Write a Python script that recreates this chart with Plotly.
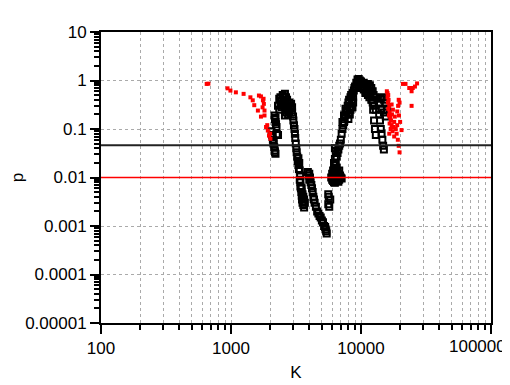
import plotly.graph_objects as go

# --- data ---
black_K = [2050, 2080, 2100, 2120, 2150, 2170, 2200, 2180, 2130, 2090,
           2160, 2180, 2200, 2220, 2240, 2200, 2250, 2300,
           2350, 2400, 2450, 2500, 2550, 2600, 2650, 2700, 2400, 2450, 2500, 2550, 2600, 2650, 2700, 2750,
           2800, 2850, 2900, 2950, 2750, 2800, 2650, 2600, 2300, 2350, 2900, 2950,
           3000, 3020, 3050, 3080, 3100, 3120, 3150, 3180, 3200, 3230, 3260, 3300, 3330,
           3300, 3350, 3380, 3400, 3420, 3450, 3480, 3500, 3520, 3550, 3600, 3650, 3420, 3380, 3500, 3550,
           3600, 3650, 3700,
           3900, 4000, 4050, 4100, 4150, 4200, 4250, 4300, 4350, 4400, 4000, 3950,
           4500, 4600, 4700, 4800, 4900, 5000, 5100, 5200, 5300, 5350, 5400, 5450,
           5600, 5650, 5600, 5700, 5800,
           5900, 6000, 6100, 6200, 6300, 6400, 6500, 6600, 6700, 6800, 6000, 6100, 6200, 6300, 6400, 6500,
           6600, 6700, 6800, 6900, 7000, 7100, 6200, 6300, 6400, 6500, 6600, 6700, 6800, 6900, 6300, 6400,
           7000, 7100, 7200, 7300, 7400, 7500, 7600, 7700, 7800, 7200, 7400, 7600,
           7900, 8000, 8100, 8200, 8300, 8400, 8500, 8600, 8700, 8800, 8900, 8000, 8300, 8600, 8000, 8200, 8500, 8700,
           9000, 9200, 9400, 9600, 9800, 10000, 10200, 9300, 9600, 9900, 10100,
           10500, 10800, 11000, 11300, 11600, 12000, 12300, 10500, 10800, 11000, 11300, 11600, 12000, 12300,
           12600, 13000, 11800, 12500, 12800,
           11700, 12000, 12200, 12400, 12600, 12800, 13000,
           13800, 14200, 14600, 15000, 15500, 13800, 14000, 14200, 14400, 14600, 14800, 15000, 14400, 15000, 15500, 15800]
black_p = [0.09, 0.075, 0.06, 0.05, 0.042, 0.036, 0.031, 0.033, 0.055, 0.068,
           0.19, 0.16, 0.14, 0.125, 0.11, 0.17, 0.078, 0.075,
           0.42, 0.45, 0.38, 0.5, 0.47, 0.53, 0.45, 0.4, 0.32, 0.28, 0.33, 0.3, 0.36, 0.29, 0.25, 0.3,
           0.35, 0.3, 0.26, 0.22, 0.2, 0.22, 0.22, 0.19, 0.3, 0.25, 0.33, 0.28,
           0.18, 0.15, 0.12, 0.1, 0.08, 0.065, 0.05, 0.04, 0.033, 0.027, 0.022, 0.018, 0.015,
           0.025, 0.02, 0.014, 0.011, 0.008, 0.006, 0.005, 0.0042, 0.0035, 0.003, 0.0027, 0.0024, 0.0065, 0.009, 0.006, 0.0045,
           0.004, 0.0035, 0.003,
           0.013, 0.012, 0.01, 0.008, 0.007, 0.006, 0.005, 0.004, 0.0035, 0.003, 0.009, 0.011,
           0.0025, 0.002, 0.0018, 0.0016, 0.0015, 0.0013, 0.0012, 0.001, 0.00095, 0.00085, 0.00078, 0.0007,
           0.0045, 0.004, 0.0028, 0.0025, 0.0035,
           0.01, 0.009, 0.0085, 0.008, 0.0078, 0.009, 0.0085, 0.0095, 0.0082, 0.009, 0.012, 0.014, 0.012, 0.015, 0.013, 0.016,
           0.013, 0.012, 0.014, 0.011, 0.01, 0.0095, 0.02, 0.024, 0.02, 0.027, 0.032, 0.038, 0.045, 0.05, 0.04, 0.035,
           0.06, 0.08, 0.1, 0.12, 0.14, 0.17, 0.2, 0.22, 0.24, 0.14, 0.19, 0.26,
           0.3, 0.35, 0.4, 0.28, 0.45, 0.5, 0.4, 0.55, 0.35, 0.62, 0.7, 0.2, 0.25, 0.28, 0.16, 0.2, 0.28, 0.45,
           0.75, 0.9, 1.05, 1.08, 1.0, 0.95, 0.85, 0.7, 0.8, 0.75, 0.7,
           0.9, 0.85, 0.8, 0.85, 0.75, 0.7, 0.6, 0.65, 0.55, 0.6, 0.5, 0.45, 0.4, 0.35,
           0.3, 0.25, 0.55, 0.5, 0.45,
           0.8, 0.6, 0.4, 0.25, 0.15, 0.1, 0.075,
           0.35, 0.42, 0.45, 0.4, 0.35, 0.2, 0.15, 0.1, 0.08, 0.06, 0.045, 0.038, 0.25, 0.22, 0.18, 0.25]

red_K = [650, 670, 940, 990, 1090, 1250, 1410, 1470, 1510, 1610, 1640, 1700, 1760, 1790, 1810,
         1700, 1810, 1860, 1920, 1960, 2010, 1750, 1780, 1900, 2000,
         15800, 16000, 16200, 16000, 16300, 16100, 16500, 16200, 16600, 16400, 16800, 17000, 16600, 17200,
         16900, 17500, 16500, 17800, 18000, 17300, 17600, 18200, 18500, 18800, 19000, 19200, 19500, 19800,
         19000, 19300, 19600, 20000, 20500, 19500, 19800, 21000, 22000, 23500, 24500, 25000, 26000, 27000,
         24500, 18000, 17200]
red_p = [0.85, 0.86, 0.69, 0.62, 0.57, 0.53, 0.45, 0.39, 0.31, 0.24, 0.49, 0.47, 0.39, 0.33, 0.24,
         0.18, 0.19, 0.11, 0.093, 0.073, 0.063, 0.28, 0.42, 0.12, 0.08,
         0.6, 0.55, 0.5, 0.45, 0.4, 0.35, 0.3, 0.26, 0.22, 0.19, 0.17, 0.15, 0.13, 0.12,
         0.1, 0.09, 0.08, 0.11, 0.14, 0.2, 0.25, 0.18, 0.1, 0.08, 0.12, 0.06, 0.045, 0.033,
         0.23, 0.3, 0.19, 0.14, 0.095, 0.4, 0.35, 0.85, 0.85, 0.7, 0.6, 0.7, 0.75, 0.87,
         0.3, 0.07, 0.32]

threshold_black = 0.046
threshold_red = 0.01

x_tickvals = [100, 1000, 10000, 100000]
x_ticktext = ["100", "1000", "10000", "100000"]
y_tickvals = [10, 1, 0.1, 0.01, 0.001, 0.0001, 0.00001]
y_ticktext = ["10", "1", "0.1", "0.01", "0.001", "0.0001", "0.00001"]

x_minor = [m * 10 ** e for e in (2, 3, 4) for m in range(2, 10)]
y_minor = [m * 10.0 ** e for e in (-5, -4, -3, -2, -1, 0) for m in range(2, 10)]

FONT = "Liberation Sans, Arial"

fig = go.Figure()
fig.add_trace(go.Scatter(x=black_K, y=black_p, mode="markers",
                         marker=dict(symbol="square-open", size=6, color="black",
                                     line=dict(width=2, color="black")),
                         showlegend=False))
fig.add_trace(go.Scatter(x=red_K, y=red_p, mode="markers",
                         marker=dict(symbol="square", size=4, color="#ff0000",
                                     line=dict(width=0)),
                         showlegend=False))

fig.add_shape(type="line", xref="paper", x0=0, x1=1, yref="y",
              y0=threshold_black, y1=threshold_black, line=dict(color="#222222", width=2))
fig.add_shape(type="line", xref="paper", x0=0, x1=1, yref="y",
              y0=threshold_red, y1=threshold_red, line=dict(color="#ff0000", width=1.5))

# the last x tick label is drawn as an annotation, right-aligned so it stays inside the page
shown_x_text = x_ticktext[:-1] + [""]
fig.add_annotation(x=5, xref="x", y=0, yref="paper", text=x_ticktext[-1], showarrow=False,
                   xanchor="right", yanchor="top", xshift=17, yshift=-12,
                   font=dict(family=FONT, size=17, color="black"))

axis_common = dict(
    type="log", showline=True, linecolor="black", linewidth=2, mirror=True,
    ticks="outside", ticklen=9, tickwidth=1.5, tickcolor="black",
    showgrid=True, gridcolor="#aaaaaa", griddash="dot", gridwidth=1,
    zeroline=False, automargin=False, ticklabeloverflow="allow",
    tickfont=dict(family=FONT, size=17, color="black"),
)

fig.update_xaxes(**axis_common, range=[2, 5], tickmode="array", tickvals=x_tickvals, ticktext=shown_x_text,
                 minor=dict(tickmode="array", tickvals=x_minor, ticks="outside", ticklen=5,
                            tickwidth=1.5, tickcolor="black",
                            showgrid=True, gridcolor="#aaaaaa", griddash="dot", gridwidth=1),
                 title=dict(text="K", font=dict(family=FONT, size=17, color="black"), standoff=9))
fig.update_yaxes(**axis_common, range=[-5, 1], tickmode="array", tickvals=y_tickvals, ticktext=y_ticktext,
                 minor=dict(tickmode="array", tickvals=y_minor, ticks="outside", ticklen=5,
                            tickwidth=1.5, tickcolor="black", showgrid=False),
                 title=dict(text="p", font=dict(family=FONT, size=17, color="black"), standoff=12))

# page body adds an 8px offset, so margins are shifted to land the plot area where the reference has it
fig.update_layout(width=510, height=385, plot_bgcolor="white", paper_bgcolor="white",
                  margin=dict(l=93, r=27, t=24, b=70))

fig.write_html("out.html")
